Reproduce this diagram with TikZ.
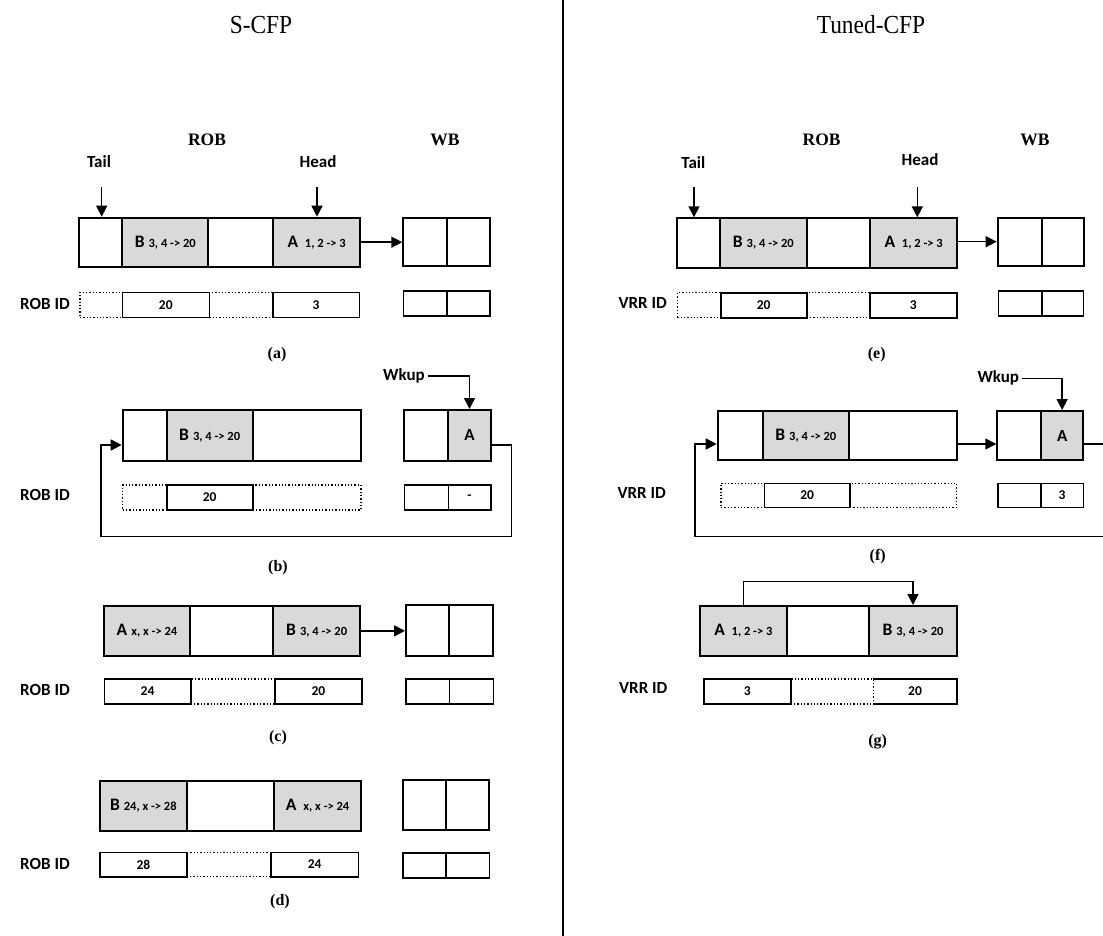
\documentclass[tikz,border=0pt]{standalone}
\usepackage{fontspec}
\setmainfont{Carlito}
\newfontfamily\tms{Liberation Serif}
\usetikzlibrary{arrows.meta}
\definecolor{cellgray}{HTML}{D9D9D9}
\newcommand\mkcell[7]{\node[#6,minimum width={(#3-#2)*1pt},minimum height={(#5-#4)*1pt}] (#1) at ({(#2+#3)/2},{(#4+#5)/2}) {#7};}
\newcommand\itm[2]{{\fontsize{17.5}{17}\selectfont #1}\hspace{4pt}{\fontsize{12.5}{13}\selectfont #2}}
\begin{document}
\begin{tikzpicture}[x=1pt,y=-1pt,
  cellbox/.style={draw,line width=2pt,inner sep=0pt,font=\bfseries},
  graycell/.style={cellbox,fill=cellgray},
  idbox/.style={draw,line width=1.6pt,inner sep=0pt,font=\bfseries\fontsize{13.5}{14}\selectfont},
  idnone/.style={inner sep=0pt,font=\bfseries\fontsize{13.5}{14}\selectfont},
  dotbox/.style={draw,line width=1.3pt,dotted,inner sep=0pt},
  arr/.style={line width=1.5pt,-{Triangle[length=11pt,width=11pt]}},
  lbl/.style={font=\bfseries\fontsize{17}{17}\selectfont,inner sep=0pt},
  ttl/.style={font=\tms\bfseries\fontsize{17.5}{17}\selectfont,inner sep=0pt},
  capt/.style={font=\tms\bfseries\fontsize{16}{16}\selectfont,inner sep=0pt},
  head/.style={font=\tms\fontsize{26}{26}\selectfont,inner sep=0pt,anchor=base,xscale=0.9}]
\useasboundingbox (0,0) rectangle (1103,936);
\clip (0,0) rectangle (1103,936);
\fill[white] (0,0) rectangle (1103,936);

% divider and titles
\coordinate (dtop) at (563,0);
\coordinate (dbot) at (563,936);
\draw[line width=2pt] (dtop) -- (dbot);
\node[head] (tS) at (261,34) {S-CFP};
\node[head] (tT) at (871,34) {Tuned-CFP};

%================ (a)
\node[ttl] (robA) at (207,140) {ROB};
\node[ttl] (wbA) at (445,140) {WB};
\node[lbl] (tailA) at (99,162) {Tail};
\node[lbl] (headA) at (318,162) {Head};
\mkcell{a1}{79}{122.3}{217.7}{266.7}{cellbox}{}
\mkcell{a2}{122.3}{208.3}{217.7}{266.7}{graycell}{\itm{B}{3, 4 -> 20}}
\mkcell{a3}{208.3}{273.3}{217.7}{266.7}{cellbox}{}
\mkcell{a4}{273.3}{360}{217.7}{266.7}{graycell}{\itm{A}{\ 1, 2 -> 3}}
\mkcell{wa1}{403.3}{446.7}{217.7}{265.7}{cellbox}{}
\mkcell{wa2}{446.7}{490}{217.7}{265.7}{cellbox}{}
\mkcell{ia1}{80}{122.3}{292.3}{317.3}{dotbox}{}
\mkcell{ia3}{209.3}{273}{292.3}{317.3}{dotbox}{}
\mkcell{ia2}{122.3}{209.3}{292.3}{317.3}{idbox}{20}
\mkcell{ia4}{273}{359.3}{292.3}{317.3}{idbox}{3}
\mkcell{wia1}{403.3}{446.7}{290.7}{315.7}{idbox}{}
\mkcell{wia2}{446.7}{490}{290.7}{315.7}{idbox}{}
\node[lbl] (ridA) at (45,304) {ROB ID};
\node[capt] (capA) at (277,355) {(a)};
\coordinate (ta) at (101.7,187);
\coordinate (ha) at (317,187);
\draw[arr] (ta) -- (ta |- a1.north);
\draw[arr] (ha) -- (ha |- a4.north);
\draw[arr] (a4.east) -- (a4.east -| wa1.west);

%================ (b)
\mkcell{b1}{122.7}{166.7}{410}{460.7}{cellbox}{}
\mkcell{b2}{166.7}{252.7}{410}{460.7}{graycell}{\itm{B}{3, 4 -> 20}}
\mkcell{b3}{252.7}{361}{410}{460.7}{cellbox}{}
\mkcell{wb1}{404.3}{448.3}{410}{460.7}{cellbox}{}
\mkcell{wb2}{448.3}{490.7}{410}{460.7}{graycell}{\fontsize{17}{17}\selectfont A}
\mkcell{ib1}{122.7}{166.7}{485}{510}{dotbox}{}
\mkcell{ib3}{252.7}{361}{485}{510}{dotbox}{}
\mkcell{ib2}{166.7}{252.7}{485}{510}{idbox}{20}
\mkcell{wib1}{404.3}{448.3}{485}{510}{idbox}{}
\mkcell{wib2}{448.3}{490.7}{485}{510}{idbox}{-}
\node[lbl] (wkB) at (404,376) {Wkup};
\node[lbl] (ridB) at (45,495) {ROB ID};
\node[capt] (capB) at (278,568) {(b)};
\draw[arr] ([xshift=3pt]wkB.east) -| (wb2.north);
\coordinate (lyb) at (0,445);
\coordinate (lrb) at (511.7,536.7);
\coordinate (llb) at (101,536.7);
\draw[arr] (wb2.east |- lyb) -| (lrb) -- (llb) |- (b1.west |- lyb);

%================ (c)
\mkcell{c1}{104}{190}{606}{655.7}{graycell}{\itm{A}{x, x -> 24}}
\mkcell{c2}{190}{273.3}{606}{655.7}{cellbox}{}
\mkcell{c3}{273.3}{360}{606}{655.7}{graycell}{\itm{B}{3, 4 -> 20}}
\mkcell{wc1}{406}{449.3}{605}{655.5}{cellbox}{}
\mkcell{wc2}{449.3}{493.3}{605}{655.5}{cellbox}{}
\mkcell{ic2}{190.7}{275}{679}{704}{dotbox}{}
\mkcell{ic1}{104.3}{190.7}{679}{704}{idbox}{24}
\mkcell{ic3}{275}{361.7}{679}{704}{idbox}{20}
\mkcell{wic1}{406}{449.3}{679}{704}{idbox}{}
\mkcell{wic2}{449.3}{493.3}{679}{704}{idbox}{}
\node[lbl] (ridC) at (45,690) {ROB ID};
\node[capt] (capC) at (278,737.7) {(c)};
\draw[arr] (c3.east) -- (c3.east -| wc1.west);

%================ (d)
\mkcell{d1}{100}{186.7}{781}{830.7}{graycell}{\itm{B}{24, x -> 28}}
\mkcell{d2}{186.7}{274.3}{781}{830.7}{cellbox}{}
\mkcell{d3}{274.3}{361}{781}{830.7}{graycell}{\itm{A}{\ x, x -> 24}}
\mkcell{wd1}{402.7}{446}{780}{830}{cellbox}{}
\mkcell{wd2}{446}{489.3}{780}{830}{cellbox}{}
\mkcell{id2}{186.7}{271}{852.3}{876.7}{dotbox}{}
\mkcell{id1}{100}{186.7}{852.3}{876.7}{idbox}{28}
\mkcell{id3}{271}{358.3}{852.3}{876.7}{idbox}{24}
\mkcell{wid1}{402.7}{446}{852.7}{878}{idbox}{}
\mkcell{wid2}{446}{489.3}{852.7}{878}{idbox}{}
\node[lbl] (ridD) at (45,864) {ROB ID};
\node[capt] (capD) at (280,901.7) {(d)};

%================ (e)
\node[ttl] (robE) at (821.7,140) {ROB};
\node[ttl] (wbE) at (1035,140) {WB};
\node[lbl] (tailE) at (693.3,163) {Tail};
\node[lbl] (headE) at (920,160) {Head};
\mkcell{e1}{677.3}{720}{218.3}{267.7}{cellbox}{}
\mkcell{e2}{720}{806.7}{218.3}{267.7}{graycell}{\itm{B}{3, 4 -> 20}}
\mkcell{e3}{806.7}{870}{218.3}{267.7}{cellbox}{}
\mkcell{e4}{870}{957.3}{218.3}{267.7}{graycell}{\itm{A}{\ 1, 2 -> 3}}
\mkcell{we1}{997.7}{1041.7}{217.7}{265.7}{cellbox}{}
\mkcell{we2}{1041.7}{1084}{217.7}{265.7}{cellbox}{}
\mkcell{ie1}{677.3}{720.7}{292.7}{317.7}{dotbox}{}
\mkcell{ie3}{806.7}{870}{292.7}{317.7}{dotbox}{}
\mkcell{ie2}{720.7}{806.7}{292.7}{317.7}{idbox}{20}
\mkcell{ie4}{870}{956.7}{292.7}{317.7}{idbox}{3}
\mkcell{wie1}{998.3}{1041.7}{291}{316}{idbox}{}
\mkcell{wie2}{1041.7}{1083.3}{291}{316}{idbox}{}
\node[lbl] (vidE) at (642.7,303.3) {VRR ID};
\node[capt] (capE) at (876.7,355) {(e)};
\coordinate (te) at (694,187);
\coordinate (he) at (917.3,187);
\draw[arr] (te) -- (te |- e1.north);
\draw[arr] (he) -- (he |- e4.north);
\draw[arr] (we1.west -| e4.east) -- (we1.west);

%================ (f)
\mkcell{f1}{717.7}{762.7}{411}{460}{cellbox}{}
\mkcell{f2}{762.7}{849}{411}{460}{graycell}{\itm{B}{3, 4 -> 20}}
\mkcell{f3}{849}{956.7}{411}{460}{cellbox}{}
\mkcell{wf1}{997.3}{1041}{411}{460}{cellbox}{}
\mkcell{wf2}{1041}{1083.3}{411}{460}{graycell}{\fontsize{17}{17}\selectfont A}
\mkcell{if1}{721}{764.3}{483.3}{507.3}{dotbox}{}
\mkcell{if3}{850}{956.7}{483.3}{507.3}{dotbox}{}
\mkcell{if2}{764.3}{850}{483.3}{507.3}{idbox}{20}
\mkcell{wif1}{997.7}{1041}{483.3}{507.3}{idbox}{}
\mkcell{wif2}{1041}{1083.3}{483.3}{507.3}{idbox}{3}
\node[lbl] (wkF) at (998.3,378.3) {Wkup};
\node[lbl] (vidF) at (641.7,493.3) {VRR ID};
\node[capt] (capF) at (877.7,556.7) {(f)};
\draw[arr] ([xshift=3pt]wkF.east) -| (wf2.north);
\coordinate (yf) at (0,444);
\draw[arr] (f3.east |- yf) -- (wf1.west |- yf);
\coordinate (lrf) at (1115,536.7);
\coordinate (llf) at (695,536.7);
\draw[arr] (wf2.east |- yf) -| (lrf) -- (llf) |- (f1.west |- yf);

%================ (g)
\mkcell{g1}{700}{786.7}{606}{655.7}{graycell}{\itm{A}{\ 1, 2 -> 3}}
\mkcell{g2}{786.7}{869.3}{606}{655.7}{cellbox}{}
\mkcell{g3}{869.3}{956.7}{606}{655.7}{graycell}{\itm{B}{3, 4 -> 20}}
\mkcell{ig2}{790.7}{873.3}{679}{704}{dotbox}{}
\mkcell{ig1}{704}{790.7}{679}{704}{idbox}{3}
\mkcell{ig3}{873.3}{956.7}{679}{704}{idnone}{20}
\draw[line width=1.6pt] (ig3.north west) -- (ig3.north east) -- (ig3.south east) -- (ig3.south west);
\node[lbl] (vidG) at (643.3,688.3) {VRR ID};
\node[capt] (capG) at (877.7,741.7) {(g)};
\coordinate (gtop) at (830,581.7);
\draw[arr] (g1.north) |- (gtop) -| (g3.north);
\end{tikzpicture}
\end{document}
